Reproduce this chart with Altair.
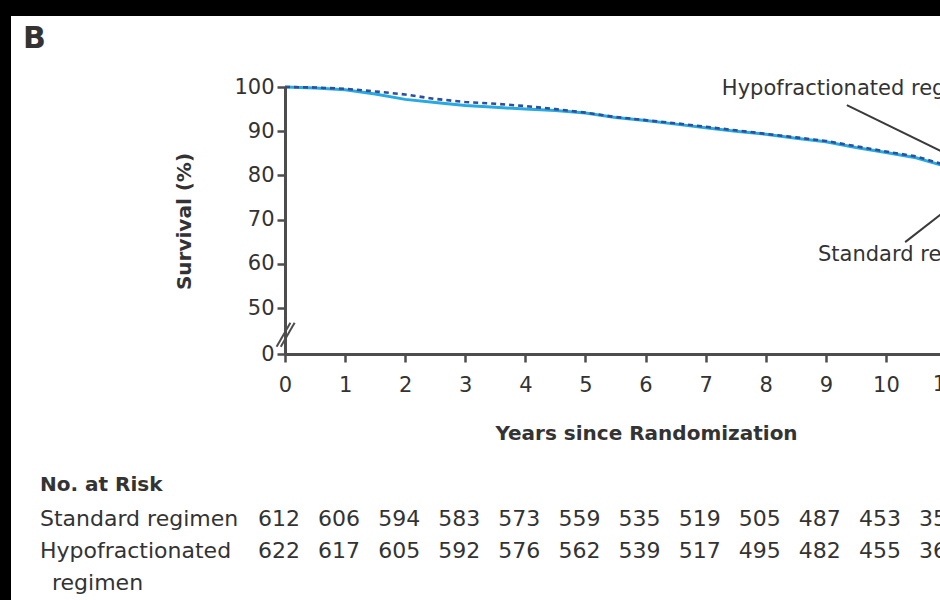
import altair as alt
import pandas as pd

# ---- data ----
years = [0, 0.5, 1, 1.5, 2, 2.5, 3, 3.5, 4, 4.5, 5, 5.5, 6, 6.5, 7, 7.5, 8, 8.5, 9, 9.5, 10, 10.5, 11]
standard_pct = [100, 99.8, 99.4, 98.4, 97.2, 96.5, 95.8, 95.4, 95.0, 94.7, 94.1, 93.1, 92.4, 91.6,
                90.8, 90.0, 89.3, 88.4, 87.6, 86.3, 85.2, 84.0, 82.0]
hypo_pct = [100, 99.9, 99.6, 99.0, 98.3, 97.3, 96.6, 96.2, 95.7, 95.0, 94.2, 93.2, 92.5, 91.8,
            91.0, 90.2, 89.4, 88.6, 87.8, 86.6, 85.4, 84.3, 82.3]

risk_years = list(range(0, 12))
risk_standard = [612, 606, 594, 583, 573, 559, 535, 519, 505, 487, 453, 357]
risk_hypo = [622, 617, 605, 592, 576, 562, 539, 517, 495, 482, 455, 362]

x_ticks = list(range(0, 11))
y_ticks = [0, 50, 60, 70, 80, 90, 100]

series_labels = ["Hypofractionated regimen", "Standard regimen"]
label_year = [7.27, 8.87]
label_pct = [99.5, 61.9]
leader_year = [9.35, 10.32]
leader_pct = [95.9, 64.9]
leader_year2 = [11.2, 11.23]
leader_pct2 = [83.6, 74.5]

break_year = [-0.14, -0.07]
break_pct = [8, 8]
break_year2 = [0.09, 0.16]
break_pct2 = [34, 34]

# ---- styles ----
FONT = "DejaVu Sans"
TXT = "#333333"
AX = "#4d4d4d"
CYAN = "#27a9e1"
DARK = "#2c4f9e"

curves = pd.DataFrame({"year": years, "standard": standard_pct, "hypo": hypo_pct})
risk = pd.DataFrame({"year": risk_years, "std": [str(v) for v in risk_standard],
                     "hyp": [str(v) for v in risk_hypo]})
labels = pd.DataFrame({"year": label_year, "pct": label_pct, "label": series_labels})
leaders = pd.DataFrame({"year": leader_year, "pct": leader_pct, "year2": leader_year2, "pct2": leader_pct2})
breaks = pd.DataFrame({"year": break_year, "pct": break_pct, "year2": break_year2, "pct2": break_pct2})
one = pd.DataFrame({"a": [0]})
tick11 = pd.DataFrame({"year": [11], "t": ["11"]})

xscale = alt.Scale(domain=[0, 10.9], nice=False, zero=False)
yscale = alt.Scale(domain=[0, 50, 100], range=[267, 221, 0], nice=False, zero=False)

xaxis = alt.Axis(values=x_ticks, format="d", title="Years since Randomization", grid=False, zindex=2,
                 tickSize=8, tickWidth=2.5, tickColor=AX, domainColor=AX, domainWidth=3,
                 labelFont=FONT, labelFontSize=21, labelColor=TXT, labelPadding=12, labelFlush=False,
                 titleFont=FONT, titleFontSize=20, titleFontWeight="bold", titleColor=TXT,
                 titleX=361, titleY=79, titleAlign="center", titleBaseline="middle")
yaxis = alt.Axis(values=y_ticks, format="d", title="Survival (%)", grid=False, zindex=2,
                 tickSize=8, tickWidth=2.5, tickColor=AX, domainColor=AX, domainWidth=3,
                 labelFont=FONT, labelFontSize=21, labelColor=TXT, labelPadding=3, labelFlush=False,
                 titleFont=FONT, titleFontSize=20, titleFontWeight="bold", titleColor=TXT,
                 titleX=-101, titleY=134, titleAngle=270, titleAlign="center", titleBaseline="middle")

bg = alt.Chart(one).mark_rect(color="white").encode(
    x=alt.value(-274), x2=alt.value(700), y=alt.value(-71), y2=alt.value(560))

std_line = alt.Chart(curves).mark_line(color=CYAN, strokeWidth=3).encode(
    x=alt.X("year:Q", scale=xscale, axis=xaxis),
    y=alt.Y("standard:Q", scale=yscale, axis=yaxis))

hypo_line = alt.Chart(curves).mark_line(color=DARK, strokeWidth=2.6, strokeDash=[5, 4]).encode(
    x="year:Q", y="hypo:Q")

leader = alt.Chart(leaders).mark_rule(color="#3a3a3a", strokeWidth=2).encode(
    x="year:Q", y="pct:Q", x2="year2:Q", y2="pct2:Q")

brk = alt.Chart(breaks).mark_rule(color=AX, strokeWidth=2).encode(
    x="year:Q", y="pct:Q", x2="year2:Q", y2="pct2:Q")

lab = alt.Chart(labels).mark_text(font=FONT, fontSize=21, color=TXT, align="left",
                                  baseline="middle").encode(x="year:Q", y="pct:Q", text="label:N")

t11 = alt.Chart(tick11).mark_text(font=FONT, fontSize=21, color=TXT, align="center",
                                  baseline="middle").encode(x="year:Q", y=alt.value(298), text="t:N")

risk_std = alt.Chart(risk).mark_text(font=FONT, fontSize=22, color=TXT, align="center",
                                     baseline="middle", dx=-6).encode(
    x="year:Q", y=alt.value(432), text="std:N")
risk_hyp = alt.Chart(risk).mark_text(font=FONT, fontSize=22, color=TXT, align="center",
                                     baseline="middle", dx=-6).encode(
    x="year:Q", y=alt.value(464), text="hyp:N")

def static_text(txt, x, y, size, weight="normal"):
    return alt.Chart(pd.DataFrame({"t": [txt]})).mark_text(
        font=FONT, fontSize=size, fontWeight=weight, color=TXT, align="left", baseline="middle"
    ).encode(x=alt.value(x), y=alt.value(y), text="t:N")

panel = static_text("B", -262, -48, 30, "bold")
no_risk = static_text("No. at Risk", -245, 398, 20, "bold")
row1 = static_text("Standard regimen", -245, 432, 22)
row2a = static_text("Hypofractionated", -245, 464, 22)
row2b = static_text("regimen", -233, 496, 22)

chart = alt.layer(
    bg, std_line, hypo_line, leader, brk, lab, t11, risk_std, risk_hyp,
    panel, no_risk, row1, row2a, row2b
).properties(
    width=655, height=267,
    padding={"left": 285, "top": 87, "right": 0, "bottom": 246},
    autosize=alt.AutoSizeParams(type="none"),
).configure(background="black").configure_view(strokeWidth=0)

chart.save("out.html", embed_options={"renderer": "svg", "actions": False})
